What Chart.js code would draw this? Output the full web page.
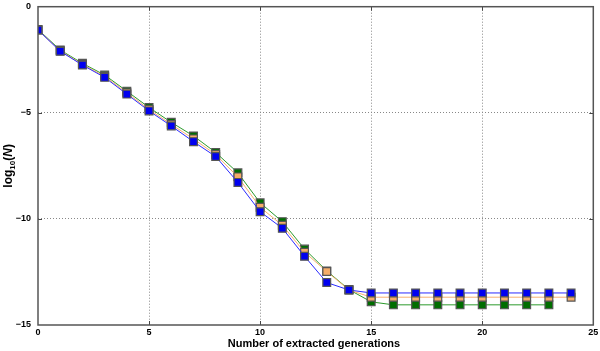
<!DOCTYPE html>
<html>
<head>
<meta charset="utf-8">
<script src="https://cdn.jsdelivr.net/npm/chart.js@4/dist/chart.umd.min.js"></script>
<style>
html,body{margin:0;padding:0;background:#fff;}
#wrap{width:600px;height:351px;position:relative;}
</style>
</head>
<body>
<div id="wrap"><canvas id="c" width="600" height="351"></canvas></div>
<script>
const generations = [0,1,2,3,4,5,6,7,8,9,10,11,12,13,14,15,16,17,18,19,20,21,22,23,24];
const blueValues = [-1.1,-2.1,-2.75,-3.33,-4.12,-4.91,-5.62,-6.36,-7.06,-8.28,-9.66,-10.44,-11.76,-13.0,-13.35,-13.49,-13.49,-13.49,-13.49,-13.49,-13.49,-13.49,-13.49,-13.49,-13.49];
const orangeValues = [-1.1,-2.08,-2.72,-3.28,-4.06,-4.84,-5.55,-6.23,-6.97,-8.02,-9.45,-10.3,-11.57,-12.48,-13.35,-13.69,-13.69,-13.69,-13.69,-13.69,-13.69,-13.69,-13.69,-13.69,-13.69];
const greenValues = [-1.07,-2.04,-2.67,-3.22,-3.98,-4.75,-5.45,-6.09,-6.87,-7.83,-9.24,-10.13,-11.42,-12.45,-13.33,-13.91,-14.05,-14.05,-14.05,-14.05,-14.05,-14.05,-14.05,-14.05];
const xTicks = [0,5,10,15,20,25];
const yTicks = [0,-5,-10,-15];
const xTitle = 'Number of extracted generations';

function pts(vals){ return vals.map((v,i)=>({x:generations[i], y:v})); }

const frame = {
  id:'frame',
  afterDatasetsDraw(chart){
    const {ctx, chartArea:a, scales} = chart;
    ctx.save();
    ctx.strokeStyle='#444'; ctx.lineWidth=1;
    xTicks.forEach(t=>{ if(t===0||t===25) return;
      const x=Math.round(scales.x.getPixelForValue(t))+0.5;
      ctx.beginPath(); ctx.moveTo(x,a.top); ctx.lineTo(x,a.top+4); ctx.moveTo(x,a.bottom); ctx.lineTo(x,a.bottom-4); ctx.stroke();
    });
    yTicks.forEach(t=>{ if(t===0||t===-15) return;
      const y=Math.round(scales.y.getPixelForValue(t))+0.5;
      ctx.beginPath(); ctx.moveTo(a.left,y); ctx.lineTo(a.left+4,y); ctx.moveTo(a.right,y); ctx.lineTo(a.right-4,y); ctx.stroke();
    });
    ctx.strokeStyle='#555'; ctx.lineWidth=1.5;
    ctx.strokeRect(a.left, a.top, a.right-a.left, a.bottom-a.top);
    ctx.fillStyle='#000';
    ctx.font='bold 11px "Liberation Sans", Arial, sans-serif';
    ctx.textAlign='center'; ctx.textBaseline='middle';
    ctx.fillText(xTitle, 314, 344);
    ctx.translate(9, (a.top+a.bottom)/2);
    ctx.rotate(-Math.PI/2);
    const parts=[['log','bold 12px "Liberation Sans", Arial, sans-serif',0],['10','bold 8px "Liberation Sans", Arial, sans-serif',4],['(','bold 12px "Liberation Sans", Arial, sans-serif',0],['N','bold italic 12px "Liberation Sans", Arial, sans-serif',0],[')','bold 12px "Liberation Sans", Arial, sans-serif',0]];
    let total=0; parts.forEach(p=>{ctx.font=p[1]; total+=ctx.measureText(p[0]).width;});
    let x=-total/2; ctx.textAlign='left';
    parts.forEach(p=>{ctx.font=p[1]; ctx.fillText(p[0], x, p[2]); x+=ctx.measureText(p[0]).width;});
    ctx.restore();
  }
};

const mk = (label, vals, line, fill) => ({
  label, data: pts(vals), borderColor: line, borderWidth: 1,
  backgroundColor: fill, pointBackgroundColor: fill, pointBorderColor: '#555',
  pointBorderWidth: 1.2, pointStyle: 'rect', pointRadius: 5.5, pointHoverRadius: 5.5,
  tension: 0, fill: false
});

new Chart(document.getElementById('c'), {
  type: 'line',
  data: { datasets: [
    mk('blue', blueValues, '#2a2aff', '#0000f0'),
    mk('orange', orangeValues, '#f7b070', '#f5ac68'),
    mk('green', greenValues, '#2c9a2c', '#006e00')
  ]},
  options: {
    responsive: false, animation: false,
    layout: { padding: { left: 0, right: 5, top: 4, bottom: 0 } },
    plugins: { legend: { display: false }, tooltip: { enabled: false } },
    scales: {
      x: {
        type: 'linear', min: 0, max: 25,
        afterFit(s){ s.height = 26; s.paddingLeft = 0; s.paddingRight = 0; },
        afterBuildTicks(s){ s.ticks = xTicks.map(v=>({value:v})); },
        ticks: { font: { family: '"Liberation Sans", Arial, sans-serif', size: 9, weight: 'bold' }, color: '#000', padding: 2, maxRotation: 0 },
        grid: { drawTicks: false, tickLength: 0,
          color: c => (c.tick && (c.tick.value===0||c.tick.value===25)) ? 'rgba(0,0,0,0)' : '#888' },
        border: { display: false, dash: [1,2] }
      },
      y: {
        type: 'linear', min: -15, max: 0,
        afterFit(s){ s.width = 38; s.paddingTop = 0; s.paddingBottom = 0; },
        afterBuildTicks(s){ s.ticks = yTicks.map(v=>({value:v})); },
        ticks: { font: { family: '"Liberation Sans", Arial, sans-serif', size: 9, weight: 'bold' }, color: '#000', padding: 7,
          callback: v => v<0 ? '\u2212'+Math.abs(v) : String(v) },
        grid: { drawTicks: false, tickLength: 0,
          color: c => (c.tick && (c.tick.value===0||c.tick.value===-15)) ? 'rgba(0,0,0,0)' : '#888' },
        border: { display: false, dash: [1,2] }
      }
    }
  },
  plugins: [frame]
});
</script>
</body>
</html>
